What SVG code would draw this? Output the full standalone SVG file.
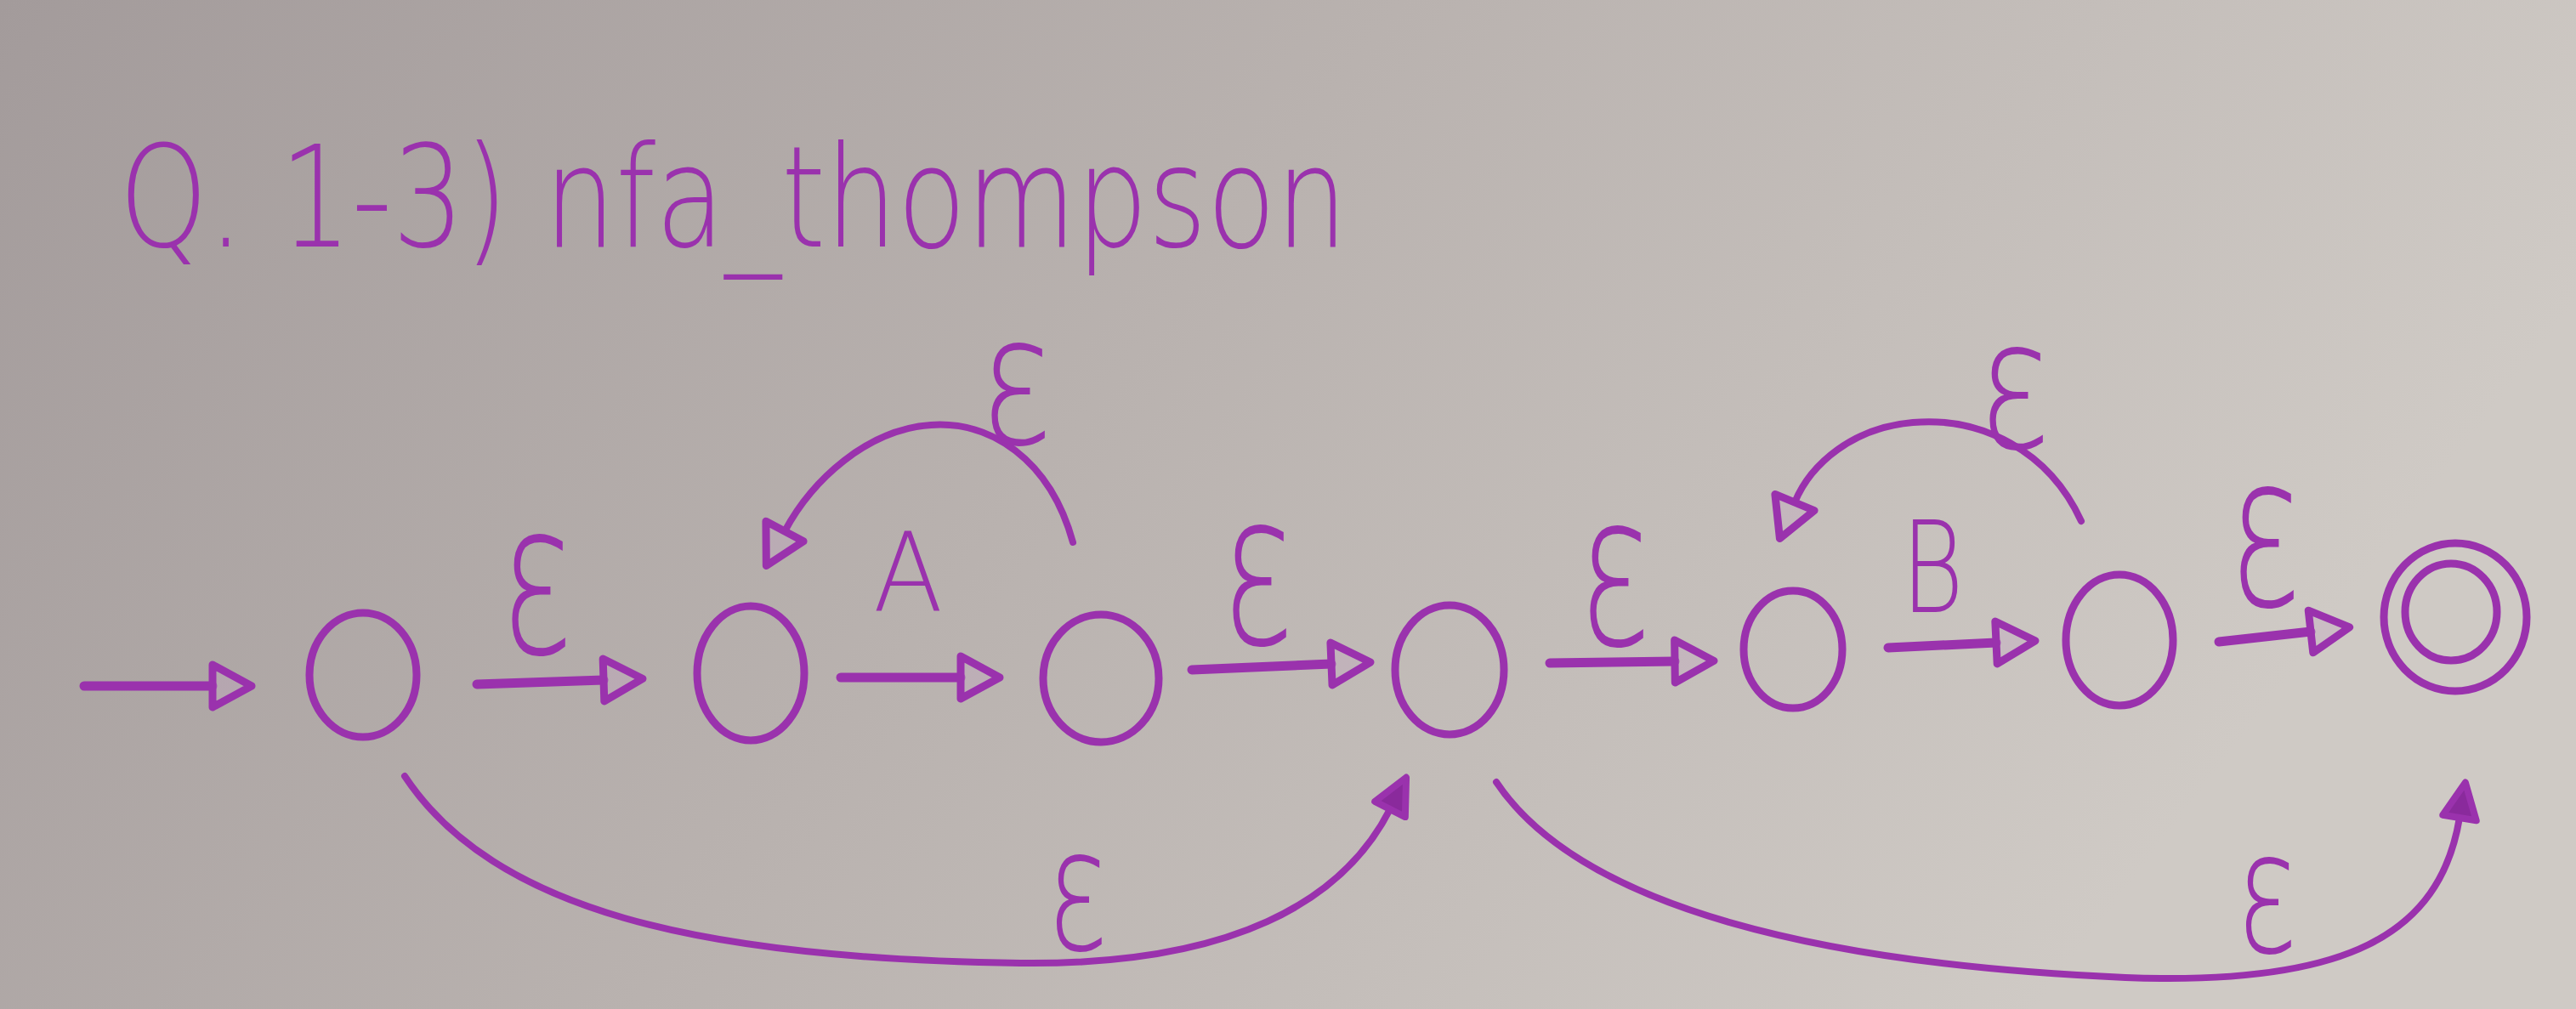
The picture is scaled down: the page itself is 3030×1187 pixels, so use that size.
<svg xmlns="http://www.w3.org/2000/svg" width="3030" height="1187" viewBox="0 0 3030 1187">
<defs>
<linearGradient id="bg" x1="0" y1="0" x2="1" y2="0.3">
<stop offset="0" stop-color="#a39b9b"/>
<stop offset="0.5" stop-color="#b9b2af"/>
<stop offset="1" stop-color="#cfcac5"/>
</linearGradient>
<marker id="tri" markerUnits="userSpaceOnUse" viewBox="-8 -32 64 64" markerWidth="64" markerHeight="64" refX="0" refY="0" orient="auto" overflow="visible">
<path d="M0,-25 L46,0 L0,25 Z" fill="#c2a6c4" fill-opacity="0.35" stroke="#9a32ad" stroke-width="9" stroke-linejoin="round"/>
</marker>
<marker id="tri2" markerUnits="userSpaceOnUse" viewBox="-8 -28 56 56" markerWidth="56" markerHeight="56" refX="0" refY="0" orient="auto" overflow="visible">
<path d="M0,-20 L42,0 L0,20 Z" fill="#8a2a9c" stroke="#9a32ad" stroke-width="8" stroke-linejoin="round"/>
</marker>
</defs>
<style>
.st{fill:none;stroke:#9a32ad;stroke-width:9;}
.ln{fill:none;stroke:#9a32ad;stroke-width:11;stroke-linecap:round;marker-end:url(#tri);}
.cv{fill:none;stroke:#9a32ad;stroke-width:8;stroke-linecap:round;marker-end:url(#tri);}
.cb{fill:none;stroke:#9a32ad;stroke-width:8;stroke-linecap:round;marker-end:url(#tri2);}
.lb{fill:#9a32ad;font-family:"DejaVu Sans","Liberation Sans",sans-serif;font-weight:200;text-anchor:middle;}
.eps{font-size:250px;}
.sym{font-size:150px;}
.title{fill:#9a32ad;font-family:"DejaVu Sans","Liberation Sans",sans-serif;font-weight:200;font-size:165px;}
</style>
<rect x="0" y="0" width="3030" height="1187" fill="url(#bg)"/>
<text class="title" x="140" y="290" textLength="1445" lengthAdjust="spacingAndGlyphs">Q. 1-3) nfa_thompson</text>
<g id="n1"><ellipse class="st" cx="427" cy="794" rx="63" ry="73"/></g>
<g id="n2"><ellipse class="st" cx="883" cy="792" rx="63" ry="79"/></g>
<g id="n3"><ellipse class="st" cx="1295" cy="798" rx="68" ry="75"/></g>
<g id="n4"><ellipse class="st" cx="1705" cy="788" rx="64" ry="76"/></g>
<g id="n5"><ellipse class="st" cx="2109" cy="764" rx="58" ry="69"/></g>
<g id="n6"><ellipse class="st" cx="2493" cy="753" rx="63" ry="77"/></g>
<g id="n7"><ellipse class="st" cx="2888" cy="726" rx="84" ry="87"/><ellipse class="st" cx="2883" cy="720" rx="54" ry="57"/></g>
<g id="connectors">
<path class="ln" d="M99,807 L250,807"/>
<path class="ln" d="M561,805 L710,800"/>
<path class="ln" d="M989,797 L1130,797"/>
<path class="ln" d="M1402,788 L1566,781"/>
<path class="ln" d="M1823,780 L1970,778"/>
<path class="ln" d="M2221,762 L2348,756"/>
<path class="ln" d="M2610,755 L2718,743"/>
<path class="cv" d="M1262,638 C1235,540 1165,495 1095,500 C1020,505 955,565 923,625"/>
<path class="cv" d="M2448,613 C2410,530 2330,490 2250,497 C2180,503 2130,545 2111,591"/>
<path class="cb" d="M476,913 C580,1070 820,1128 1200,1133 C1450,1136 1580,1060 1635,952"/>
<path class="cb" d="M1760,920 C1860,1070 2150,1135 2500,1150 C2760,1160 2870,1100 2893,962"/>
<text class="lb eps" transform="translate(632,768) scale(0.65,1)">ε</text>
<text class="lb sym" transform="translate(1068,718) scale(0.8,0.85)">A</text>
<text class="lb eps" transform="translate(1480,757) scale(0.65,1)">ε</text>
<text class="lb eps" transform="translate(1900,758) scale(0.65,1)">ε</text>
<text class="lb sym" transform="translate(2273,720) scale(0.75,1)">B</text>
<text class="lb eps" transform="translate(2665,712) scale(0.65,1)">ε</text>
<text class="lb eps" transform="translate(1196,522) scale(0.65,0.85)">ε</text>
<text class="lb eps" transform="translate(2370,527) scale(0.65,0.85)">ε</text>
<text class="lb eps" transform="translate(1268,1117) scale(0.55,0.8)">ε</text>
<text class="lb eps" transform="translate(2667,1120) scale(0.55,0.8)">ε</text>
</g>
</svg>
